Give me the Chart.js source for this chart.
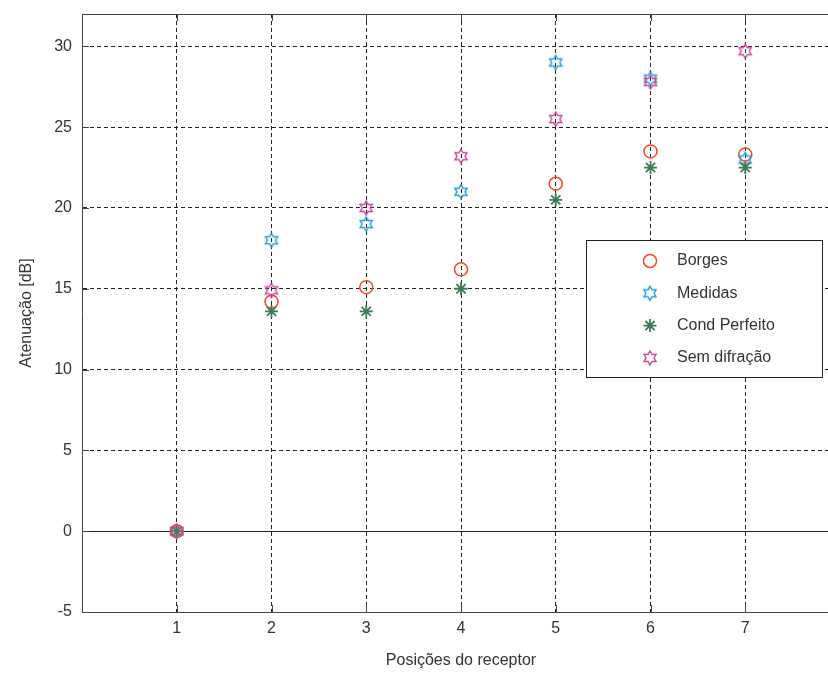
<!DOCTYPE html>
<html><head><meta charset="utf-8">
<script src="https://cdn.jsdelivr.net/npm/chart.js@4"></script>
<style>
html,body{margin:0;padding:0;background:#fff;overflow:hidden;width:828px;height:673px}
#wrap{width:850px;height:673px;position:relative}
</style></head>
<body><div id="wrap"><canvas id="c" width="850" height="673"></canvas></div>
<script>
const positions = [1, 2, 3, 4, 5, 6, 7];
const borges = [0, 14.2, 15.1, 16.2, 21.5, 23.5, 23.3];
const medidas = [0, 18.0, 19.0, 21.0, 29.0, 28.0, 23.0];
const condPerfeito = [0, 13.6, 13.6, 15.0, 20.5, 22.5, 22.5];
const semDifracao = [0, 14.9, 20.0, 23.2, 25.5, 27.8, 29.7];
const seriesNames = ['Borges', 'Medidas', 'Cond Perfeito', 'Sem difração'];
const xTicks = [1, 2, 3, 4, 5, 6, 7];
const yTicks = [-5, 0, 5, 10, 15, 20, 25, 30];

const TEXT = '#333';
const FONT = 'Liberation Sans, Arial, sans-serif';

function hexagram(color) {
  const s = 18, c = document.createElement('canvas');
  c.width = s; c.height = s;
  const g = c.getContext('2d');
  const R = 7, r = R / Math.sqrt(3);
  g.beginPath();
  for (let i = 0; i < 12; i++) {
    const a = -Math.PI / 2 + i * Math.PI / 6;
    const rad = i % 2 === 0 ? R : r;
    const px = s / 2 + rad * Math.cos(a), py = s / 2 + rad * Math.sin(a);
    if (i === 0) g.moveTo(px, py); else g.lineTo(px, py);
  }
  g.closePath();
  g.strokeStyle = color; g.lineWidth = 1.4; g.stroke();
  return c;
}

const toPts = arr => positions.map((x, i) => ({x: x, y: arr[i]}));

const datasets = [
  {label: seriesNames[0], data: toPts(borges), pointStyle: 'circle', pointRadius: 6.5,
   borderColor: '#ff4422', backgroundColor: 'rgba(0,0,0,0)', pointBorderWidth: 1.5, order: 3},
  {label: seriesNames[1], data: toPts(medidas), pointStyle: hexagram('#1e9bd7'), pointRadius: 7,
   borderColor: '#1e9bd7', backgroundColor: 'rgba(0,0,0,0)', order: 2},
  {label: seriesNames[2], data: toPts(condPerfeito), pointStyle: 'star', pointRadius: 6.5,
   borderColor: '#3d7a55', backgroundColor: 'rgba(0,0,0,0)', pointBorderWidth: 1.8, order: 1},
  {label: seriesNames[3], data: toPts(semDifracao), pointStyle: hexagram('#cc4499'), pointRadius: 7,
   borderColor: '#cc4499', backgroundColor: 'rgba(0,0,0,0)', order: 0}
];

const extras = {
  id: 'extras',
  beforeDatasetsDraw(chart) {
    const {ctx, chartArea: a, scales: {x, y}} = chart;
    ctx.save();
    ctx.setLineDash([]);
    ctx.strokeStyle = '#222';
    ctx.lineWidth = 1;
    const y0 = Math.round(y.getPixelForValue(0)) + 0.5;
    ctx.beginPath(); ctx.moveTo(a.left, y0); ctx.lineTo(a.right, y0); ctx.stroke();
    ctx.strokeStyle = '#444';
    ctx.beginPath(); ctx.moveTo(a.left, a.top + 0.5); ctx.lineTo(a.right, a.top + 0.5); ctx.stroke();
    ctx.beginPath();
    xTicks.forEach(v => {
      const px = Math.round(x.getPixelForValue(v)) + 0.5;
      ctx.moveTo(px, a.bottom); ctx.lineTo(px, a.bottom - 7);
      ctx.moveTo(px, a.top); ctx.lineTo(px, a.top + 7);
    });
    yTicks.forEach(v => {
      const py = Math.round(y.getPixelForValue(v)) + 0.5;
      ctx.moveTo(a.left, py); ctx.lineTo(a.left + 7, py);
    });
    ctx.stroke();
    ctx.restore();
  },
  afterDraw(chart) {
    const {ctx, chartArea: a} = chart;
    const bx = a.right - 254, by = a.top + 226, bw = 236, bh = 137;
    ctx.save();
    ctx.fillStyle = '#fff';
    ctx.fillRect(bx, by, bw, bh);
    ctx.strokeStyle = '#222'; ctx.lineWidth = 1; ctx.setLineDash([]);
    ctx.strokeRect(Math.round(bx) + 0.5, Math.round(by) + 0.5, bw, bh);
    ctx.font = '16px ' + FONT;
    ctx.textBaseline = 'middle';
    chart.data.datasets.forEach((ds, i) => {
      const cy = by + 21 + i * 32.3;
      const cx = bx + 64;
      ctx.strokeStyle = ds.borderColor;
      ctx.lineWidth = ds.pointBorderWidth || 1.4;
      ctx.fillStyle = 'rgba(0,0,0,0)';
      Chart.helpers.drawPoint(ctx, {pointStyle: ds.pointStyle, radius: ds.pointRadius,
        rotation: 0, borderWidth: ds.pointBorderWidth || 1}, cx, cy);
      ctx.fillStyle = TEXT;
      ctx.fillText(ds.label, bx + 91, cy);
    });
    ctx.restore();
  }
};

new Chart(document.getElementById('c'), {
  type: 'scatter',
  data: {datasets: datasets},
  plugins: [extras],
  options: {
    responsive: false,
    animation: false,
    layout: {padding: {top: 14, right: 10, left: 0, bottom: 0}},
    plugins: {legend: {display: false}, tooltip: {enabled: false}},
    scales: {
      x: {
        type: 'linear', min: 0, max: 8,
        afterBuildTicks: s => { s.ticks = xTicks.map(v => ({value: v})); },
        afterFit: s => { s.height = 61; s.paddingLeft = 0; s.paddingRight = 0; },
        grid: {color: '#222', lineWidth: 1, drawTicks: false},
        border: {color: '#444', width: 1, dash: [4, 3]},
        ticks: {color: TEXT, font: {family: FONT, size: 16}, padding: 7, maxRotation: 0},
        title: {display: true, text: 'Posições do receptor', color: TEXT,
          font: {family: FONT, size: 16}, padding: {top: 0, bottom: 3}}
      },
      y: {
        type: 'linear', min: -5, max: 32,
        afterBuildTicks: s => { s.ticks = yTicks.map(v => ({value: v})); },
        afterFit: s => { s.width = 82; s.paddingTop = 0; s.paddingBottom = 0; },
        grid: {color: '#222', lineWidth: 1, drawTicks: false},
        border: {color: '#444', width: 1, dash: [4, 3]},
        ticks: {color: TEXT, font: {family: FONT, size: 16}, padding: 10},
        title: {display: true, text: 'Atenuação [dB]', color: TEXT,
          font: {family: FONT, size: 16}, padding: {top: 17, bottom: 0}}
      }
    }
  }
});
</script>
</body></html>
